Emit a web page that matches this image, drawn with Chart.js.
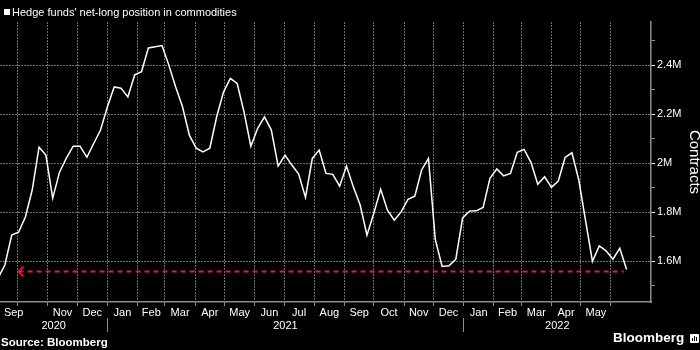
<!DOCTYPE html>
<html lang="en">
<head>
<meta charset="UTF-8" />
<title>Hedge funds' net-long position in commodities</title>
<script src="https://cdn.jsdelivr.net/npm/chart.js@4"></script>
<style>
  body { margin: 0; background: #000; }
  #wrap { position: relative; width: 700px; height: 350px; overflow: hidden; }
  .txt { position: absolute; color: #fff; font-family: "Liberation Sans", Arial, sans-serif; white-space: nowrap; }
  #head { left: 12px; top: 6px; font-size: 11px; line-height: 13px; }
  #head::before { content: ""; position: absolute; left: -8px; top: 3px; width: 6px; height: 6px; background: #fff; }
  #source { left: 1px; top: 336px; font-size: 11.5px; font-weight: bold; line-height: 13px; }
  #brand { left: 613px; top: 330px; font-size: 13.5px; font-weight: bold; line-height: 16px; }
  #brand-icon { position: absolute; left: 690px; top: 334px; width: 9px; height: 9px; background: #fff; border-radius: 1px; }
  #brand-icon i { position: absolute; bottom: 2px; width: 1px; background: #000; }
</style>
</head>
<body>
<div id="wrap">
  <canvas id="chart"></canvas>
  <div class="txt" id="head">Hedge funds' net-long position in commodities</div>
  <div class="txt" id="source">Source: Bloomberg</div>
  <div class="txt" id="brand">Bloomberg</div>
  <div id="brand-icon"><i style="left:2px;height:3px"></i><i style="left:4px;height:5px"></i><i style="left:6px;height:4px"></i></div>
</div>
<script>
  // weekly report dates
  const weeks = [
    '2020-09-11', '2020-09-18', '2020-09-25', '2020-10-02', '2020-10-09', '2020-10-16', '2020-10-23', '2020-10-30',
    '2020-11-06', '2020-11-13', '2020-11-20', '2020-11-27', '2020-12-04', '2020-12-11', '2020-12-18', '2020-12-25',
    '2021-01-01', '2021-01-08', '2021-01-15', '2021-01-22', '2021-01-29', '2021-02-05', '2021-02-12', '2021-02-19',
    '2021-02-26', '2021-03-05', '2021-03-12', '2021-03-19', '2021-03-26', '2021-04-02', '2021-04-09', '2021-04-16',
    '2021-04-23', '2021-04-30', '2021-05-07', '2021-05-14', '2021-05-21', '2021-05-28', '2021-06-04', '2021-06-11',
    '2021-06-18', '2021-06-25', '2021-07-02', '2021-07-09', '2021-07-16', '2021-07-23', '2021-07-30', '2021-08-06',
    '2021-08-13', '2021-08-20', '2021-08-27', '2021-09-03', '2021-09-10', '2021-09-17', '2021-09-24', '2021-10-01',
    '2021-10-08', '2021-10-15', '2021-10-22', '2021-10-29', '2021-11-05', '2021-11-12', '2021-11-19', '2021-11-26',
    '2021-12-03', '2021-12-10', '2021-12-17', '2021-12-24', '2021-12-31', '2022-01-07', '2022-01-14', '2022-01-21',
    '2022-01-28', '2022-02-04', '2022-02-11', '2022-02-18', '2022-02-25', '2022-03-04', '2022-03-11', '2022-03-18',
    '2022-03-25', '2022-04-01', '2022-04-08', '2022-04-15', '2022-04-22', '2022-04-29', '2022-05-06', '2022-05-13',
    '2022-05-20', '2022-05-27', '2022-06-03', '2022-06-10', '2022-06-17'
  ];

  // net-long position, millions of contracts
  const netLong = [
    1.530, 1.584, 1.706, 1.718, 1.780, 1.890, 2.065, 2.033,
    1.857, 1.963, 2.020, 2.069, 2.069, 2.024, 2.080, 2.135,
    2.229, 2.311, 2.306, 2.270, 2.360, 2.373, 2.470, 2.475,
    2.480, 2.400, 2.311, 2.230, 2.114, 2.061, 2.046, 2.061,
    2.189, 2.290, 2.346, 2.325, 2.209, 2.069, 2.142, 2.189,
    2.135, 1.988, 2.033, 1.992, 1.955, 1.860, 2.019, 2.053,
    1.958, 1.954, 1.906, 1.988, 1.903, 1.829, 1.706, 1.795,
    1.893, 1.808, 1.767, 1.801, 1.852, 1.865, 1.972, 2.019,
    1.688, 1.578, 1.581, 1.607, 1.776, 1.804, 1.805, 1.819,
    1.938, 1.976, 1.948, 1.958, 2.044, 2.056, 2.003, 1.914,
    1.944, 1.901, 1.927, 2.023, 2.042, 1.931, 1.764, 1.599,
    1.662, 1.642, 1.608, 1.652, 1.566
  ];

  // latest level traced back to the last time it was seen
  const floorLevel = 1.557;
  const floorFrom = '2020-10-02';
  const floorTo = '2022-06-14';

  // visible window and axes
  const xFrom = '2020-09-13';
  const xTo = '2022-07-12';
  const gridMonths = ['2020-10', '2022-06'];   // first and last month line
  const monthLabels = [
    '2020-09', '2020-11', '2020-12',
    '2021-01', '2021-02', '2021-03', '2021-04', '2021-05', '2021-06',
    '2021-07', '2021-08', '2021-09', '2021-10', '2021-11', '2021-12',
    '2022-01', '2022-02', '2022-03', '2022-04', '2022-05'
  ];
  const monthNames = ['Jan', 'Feb', 'Mar', 'Apr', 'May', 'Jun', 'Jul', 'Aug', 'Sep', 'Oct', 'Nov', 'Dec'];
  const yearLabels = ['2020', '2021', '2022'];
  const yTicks = [1.5, 1.6, 1.7, 1.8, 1.9, 2.0, 2.1, 2.2, 2.3, 2.4, 2.5];
  const yMin = 1.433;
  const yMax = 2.576;

  const DAY = 864e5;
  const day = s => Date.parse(s + 'T00:00:00Z') / DAY;
  const monthStart = (y, m) => Date.UTC(y, m - 1, 1) / DAY;
  const xMin = day(xFrom);
  const xMax = day(xTo);
  const labelEdge = 14;  // days kept between an edge label and the frame

  // month boundaries for the vertical grid
  const monthLines = [];
  {
    let [y, m] = gridMonths[0].split('-').map(Number);
    const last = gridMonths[1].split('-').map(Number);
    while (y < last[0] || (y === last[0] && m <= last[1])) {
      monthLines.push(monthStart(y, m));
      m++;
      if (m > 12) { m = 1; y++; }
    }
  }

  // month names sit in the middle of the visible part of each month
  const monthTicks = monthLabels.map(k => {
    const y = +k.slice(0, 4), m = +k.slice(5, 7);
    const a = Math.max(monthStart(y, m), xMin);
    const b = Math.min(monthStart(y, m + 1), xMax);
    const mid = Math.min(Math.max((a + b) / 2, xMin + labelEdge), xMax - labelEdge);
    return { value: mid, label: monthNames[m - 1] };
  });

  const yearTicks = yearLabels.map(y => {
    const a = Math.max(monthStart(+y, 1), xMin);
    const b = Math.min(monthStart(+y + 1, 1), xMax);
    return { value: (a + b) / 2, label: y };
  });
  const yearLines = yearLabels.slice(1).map(y => monthStart(+y, 1));

  const isMajor = v => Math.round(v * 10) % 2 === 0;

  const white = '#ffffff';
  const red = '#e31b43';
  const gridCol = '#6e6e6e';
  const axisCol = '#8f8f8f';
  const gridDash = [2, 1];

  // open "<" head for the left end of the dashed level line
  const arrow = document.createElement('canvas');
  arrow.width = 14;
  arrow.height = 14;
  {
    const g = arrow.getContext('2d');
    g.strokeStyle = red;
    g.lineWidth = 2;
    g.beginPath();
    g.moveTo(12, 2);
    g.lineTo(7, 7);
    g.lineTo(12, 12);
    g.stroke();
  }

  Chart.defaults.font.family = '"Liberation Sans", Arial, sans-serif';
  Chart.defaults.font.size = 11;
  Chart.defaults.color = white;

  const xBase = { type: 'linear', position: 'bottom', min: xMin, max: xMax };

  new Chart(document.getElementById('chart'), {
    type: 'line',
    data: {
      datasets: [
        {
          label: 'Level',
          data: [{ x: day(floorFrom), y: floorLevel }, { x: day(floorTo), y: floorLevel }],
          borderColor: red,
          borderWidth: 2,
          borderDash: [5, 4],
          pointRadius: [4, 0],
          pointStyle: [arrow, 'circle'],
          xAxisID: 'x',
          yAxisID: 'y'
        },
        {
          label: "Hedge funds' net-long position in commodities",
          data: weeks.map((w, i) => ({ x: day(w), y: netLong[i] })),
          borderColor: white,
          borderWidth: 1.5,
          pointRadius: 0,
          tension: 0,
          xAxisID: 'x',
          yAxisID: 'y'
        }
      ]
    },
    options: {
      animation: false,
      responsive: true,
      maintainAspectRatio: false,
      layout: { autoPadding: false, padding: { top: 22, left: 0, right: 0, bottom: 18 } },
      plugins: {
        legend: { display: false },
        tooltip: { enabled: false }
      },
      scales: {
        // month boundaries: dotted grid + short ticks under the axis
        x: {
          ...xBase,
          afterBuildTicks: s => { s.ticks = monthLines.map(v => ({ value: v })); },
          afterFit: s => { s.height = 4; },
          ticks: { display: false },
          grid: { color: gridCol, tickColor: axisCol, tickLength: 4, lineWidth: 1 },
          border: { color: axisCol, width: 1.5, dash: gridDash }
        },
        // month names
        xm: {
          ...xBase,
          afterBuildTicks: s => { s.ticks = monthTicks.map(t => ({ value: t.value })); },
          afterFit: s => { s.height = 12; },
          grid: { display: false, drawTicks: false },
          border: { display: false },
          ticks: {
            autoSkip: false, maxRotation: 0, minRotation: 0, padding: 0, color: white,
            callback: (v, i) => monthTicks[i].label
          }
        },
        // year separators
        xd: {
          ...xBase,
          afterBuildTicks: s => { s.ticks = yearLines.map(v => ({ value: v })); },
          afterFit: s => { s.height = 0; },
          ticks: { display: false },
          grid: { drawOnChartArea: false, tickLength: 14, tickColor: axisCol, lineWidth: 1 },
          border: { display: false }
        },
        // years
        xy: {
          ...xBase,
          afterBuildTicks: s => { s.ticks = yearTicks.map(t => ({ value: t.value })); },
          afterFit: s => { s.height = 14; },
          grid: { display: false, drawTicks: false },
          border: { display: false },
          ticks: {
            autoSkip: false, maxRotation: 0, minRotation: 0, padding: 1, color: white,
            callback: (v, i) => yearTicks[i].label
          }
        },
        y: {
          position: 'right',
          min: yMin,
          max: yMax,
          afterBuildTicks: s => { s.ticks = yTicks.map(v => ({ value: v })); },
          afterFit: s => { s.width = 49; },
          ticks: {
            autoSkip: false, padding: 2, color: white,
            callback: v => isMajor(v) ? (Math.round(v * 10) / 10) + 'M' : ''
          },
          grid: {
            color: c => isMajor(c.tick.value) ? gridCol : 'transparent',
            tickColor: c => isMajor(c.tick.value) ? white : axisCol,
            tickLength: 4,
            lineWidth: 1
          },
          border: { color: axisCol, width: 1.5, dash: gridDash },
          title: {
            display: true,
            text: 'Contracts',
            color: white,
            font: { size: 15, lineHeight: 1 },
            padding: { top: -2, bottom: 0 }
          }
        }
      }
    }
  });
</script>
</body>
</html>
